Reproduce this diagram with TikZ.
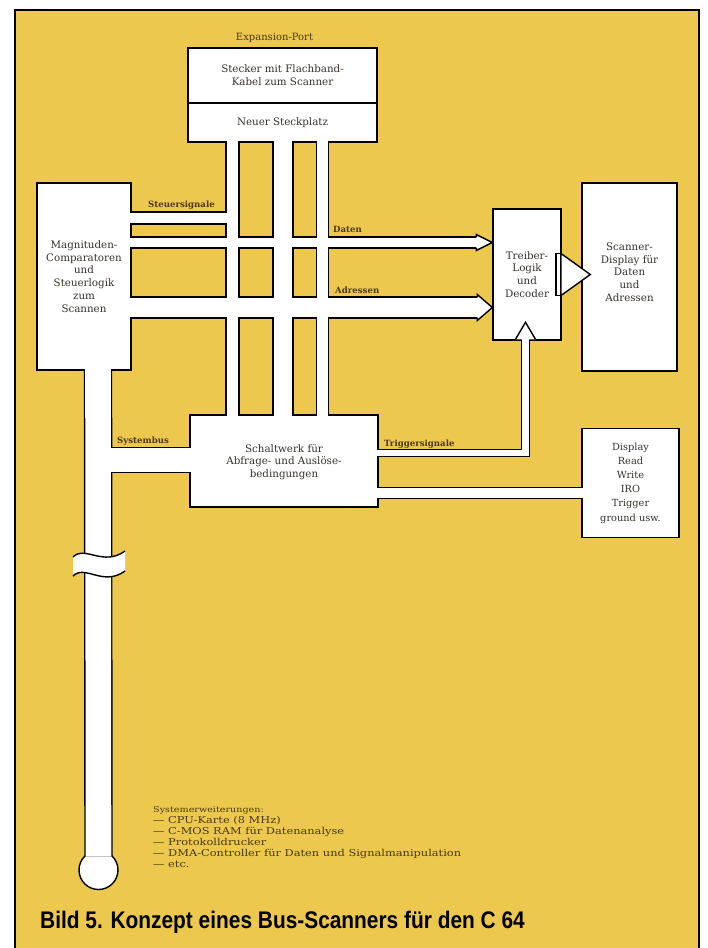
\documentclass[tikz,border=0pt]{standalone}
\usepackage{fontspec}
\setmainfont{DejaVu Serif}
\newfontfamily\capfont[FakeStretch=0.87]{Liberation Sans}
\newfontfamily\notefont[FakeStretch=1.2]{DejaVu Serif}
\usetikzlibrary{positioning,backgrounds}

\definecolor{panel}{RGB}{236,200,78}
\definecolor{inktext}{RGB}{55,50,45}
\definecolor{busink}{RGB}{75,58,18}

\begin{document}
\begin{tikzpicture}[
    x=1pt, y=-1pt,
    box/.style={rectangle, draw=black, line width=1.4pt, fill=white, inner sep=0pt, align=center, text=inktext, font=\fontsize{10.3}{12.7}\selectfont},
    buslabel/.style={anchor=base west, inner sep=0pt, text=busink, font=\bfseries\fontsize{8.6}{10}\selectfont},
    bus/.style={draw=\buscol, line width=#1+(\busgrow), shorten <=-1.5pt, shorten >=-1.5pt},
    head/.style={draw=black, line width=1.4pt, fill=white, line join=miter}
  ]
  \useasboundingbox (0,0) rectangle (707,948);

  % Panel
  \begin{scope}[on background layer]
    \fill[white] (0,0) rectangle (707,948);
    \fill[panel] (15,10) rectangle (699,948);
    \draw[line width=1.4pt] (15,948) |- (699,10) -- (699,948);
  \end{scope}

  % Nodes
  \node[box, minimum width=189pt, minimum height=55pt] (stecker) at (282.5,75.5) {Stecker mit Flachband-\\Kabel zum Scanner};
  \node[box, minimum width=189pt, minimum height=39pt, below=-1.4pt of stecker] (steckplatz) {Neuer Steckplatz};
  \node[above=5pt of stecker, xshift=-8pt, inner sep=0pt, text=busink, font=\fontsize{10}{12}\selectfont] (port) {Expansion-Port};
  \node[box, minimum width=94pt, minimum height=187pt] (mag) at (84,276.5) {Magnituden-\\Comparatoren\\und\\Steuerlogik\\zum\\Scannen};
  \node[box, minimum width=68pt, minimum height=131pt] (treiber) at (527,274.5) {Treiber-\\Logik\\und\\Decoder};
  \node[box, minimum width=95pt, minimum height=188pt] (scanner) at (629.5,277) {Scanner-\\Display für\\Daten\\und\\Adressen\\[-2.7pt]};
  \node[box, minimum width=97pt, minimum height=109pt, below=56pt of scanner, xshift=1pt, font=\fontsize{9.8}{14.2}\selectfont] (display) {Display\\Read\\Write\\IRO\\Trigger\\ground usw.};
  \node[box, minimum width=188pt, minimum height=92pt] (schalt) at (284,461) {\mbox{}\\[-2.7pt]Schaltwerk für\\Abfrage- und Auslöse-\\bedingungen};
  \node[box, circle, minimum size=39pt] (sysend) at (98.5,870) {};

  % Lanes
  \coordinate (laneA) at (232.5,0);
  \coordinate (laneB) at (283,0);
  \coordinate (laneC) at (322.5,0);
  \coordinate (laneSys) at (98,0);
  \coordinate (laneTrig) at (525.5,0);
  \coordinate (rowSteuer) at (0,218);
  \coordinate (rowDaten) at (0,242.5);
  \coordinate (rowAdr) at (0,307.5);
  \coordinate (rowSys) at (0,460);
  \coordinate (rowTrig) at (0,453);
  \coordinate (rowDisp) at (0,493);
  \coordinate (datenTip) at (treiber.west |- rowDaten);
  \coordinate (datenHead) at ([xshift=-16pt]datenTip);
  \coordinate (adrTip) at (treiber.west |- rowAdr);
  \coordinate (adrHead) at ([xshift=-15pt]adrTip);
  \coordinate (trigTip) at (treiber.south -| laneTrig);
  \coordinate (trigBase) at ([yshift=1.4pt]trigTip);

  % Buses: black casing first, white core second
  \foreach \busgrow/\buscol in {1.4/black, -1.4/white} {
    \draw[bus=13] (steckplatz.south -| laneA) -- (schalt.north -| laneA);
    \draw[bus=20] (steckplatz.south -| laneB) -- (schalt.north -| laneB);
    \draw[bus=12] (steckplatz.south -| laneC) -- (schalt.north -| laneC);
    \draw[bus=12] (mag.east |- rowSteuer) -- (laneA |- rowSteuer);
    \draw[bus=11] (mag.east |- rowDaten) -- (datenHead);
    \draw[bus=21] (mag.east |- rowAdr) -- (adrHead);
    \draw[bus=27] (mag.south -| laneSys) -- ([yshift=-5pt]sysend.north);
    \draw[bus=25] (laneSys |- rowSys) -- (schalt.west |- rowSys);
    \draw[bus=7.5] (schalt.east |- rowTrig) -| (trigTip);
    \draw[bus=10.5] (schalt.east |- rowDisp) -- (display.west |- rowDisp);
  }

  % Arrow heads
  \filldraw[head] ([yshift=5.5pt]datenHead) -- ([yshift=8pt]datenHead) -- (datenTip) -- ([yshift=-8pt]datenHead) -- ([yshift=-5.5pt]datenHead);
  \filldraw[head] ([yshift=10.5pt]adrHead) -- ([yshift=13pt]adrHead) -- (adrTip) -- ([yshift=-13pt]adrHead) -- ([yshift=-10.5pt]adrHead);
  \filldraw[head] ([xshift=-10pt]trigBase) -- ([yshift=17pt]trigBase) -- ([xshift=10pt]trigBase);
  \coordinate (outBase) at ([xshift=-0.7pt]treiber.east);
  \coordinate (outTip) at (scanner.west |- outBase);
  \filldraw[head] ([xshift=-5pt,yshift=21pt]outBase) rectangle ([yshift=-21pt]outBase);
  \filldraw[head] ([yshift=21pt]outBase) -- ([xshift=9pt]outTip) -- ([yshift=-21pt]outBase) -- cycle;

  % Break in the system bus
  \fill[white] (73,557) .. controls (85,545) and (103,567) .. (125,551) -- (125,571) .. controls (103,587) and (85,564) .. (73,576) -- cycle;
  \draw[line width=1.4pt] (73,557) .. controls (85,545) and (103,567) .. (125,551);
  \draw[line width=1.4pt] (73,576) .. controls (85,564) and (103,587) .. (125,571);

  % Labels
  \node[buslabel] (lblSteuer) at (148,207.5) {Steuersignale};
  \node[buslabel] (lblDaten) at (333,232) {Daten};
  \node[buslabel] (lblAdr) at (335,293) {Adressen};
  \node[buslabel] (lblSys) at (117,443) {Systembus};
  \node[buslabel] (lblTrig) at (384,446) {Triggersignale};

  \node[anchor=north west, inner sep=0pt, align=left, text=busink, font=\notefont\fontsize{9.5}{11}\selectfont] (notes) at (153,806) {{\fontsize{8}{11}\selectfont Systemerweiterungen:}\\
    — CPU-Karte (8 MHz)\\
    — C-MOS RAM für Datenanalyse\\
    — Protokolldrucker\\
    — DMA-Controller für Daten und Signalmanipulation\\
    — etc.};
  \node[anchor=base west, inner sep=0pt, font=\capfont\bfseries\fontsize{24}{28}\selectfont] (caption) at (40,928) {Bild 5. Konzept eines Bus-Scanners für den C 64};
\end{tikzpicture}
\end{document}
